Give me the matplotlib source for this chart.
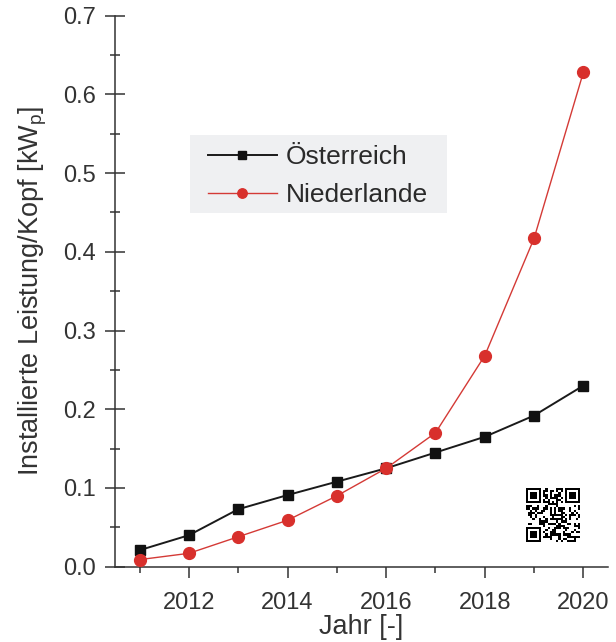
import numpy as np
import matplotlib
matplotlib.use("Agg")
import matplotlib.pyplot as plt
from matplotlib.patches import Rectangle
from matplotlib.ticker import MultipleLocator, FormatStrFormatter

plt.rcParams['font.family'] = ['Liberation Sans', 'DejaVu Sans']

# Installed PV capacity per capita [kWp]
years = [2011, 2012, 2013, 2014, 2015, 2016, 2017, 2018, 2019, 2020]
oesterreich = [0.021, 0.040, 0.073, 0.091, 0.108, 0.125, 0.145, 0.165, 0.192, 0.230]
niederlande = [0.009, 0.017, 0.038, 0.059, 0.090, 0.125, 0.170, 0.268, 0.417, 0.628]
series_names = ["Österreich", "Niederlande"]

W, H = 616, 642
fig = plt.figure(figsize=(W / 100, H / 100), dpi=100)
ax = fig.add_axes([0.1867, 0.1173, 0.8003, 0.8583])

spine_col = "#333333"
text_col = "#333333"
ax.plot(years, oesterreich, color="#1a1a1a", lw=1.4, marker="s", ms=7.5,
        mfc="#111111", mec="#111111", label=series_names[0], zorder=3)
ax.plot(years, niederlande, color="#d43a36", lw=1.0, marker="o", ms=8.5,
        mfc="#d8302c", mec="#d8302c", label=series_names[1], zorder=4)

ax.set_xlim(2010.5, 2020.5)
ax.set_ylim(0, 0.7)

for s in ("top", "right"):
    ax.spines[s].set_visible(False)
for s in ("left", "bottom"):
    ax.spines[s].set_color(spine_col)
    ax.spines[s].set_linewidth(1.1)

ax.xaxis.set_major_locator(MultipleLocator(2))
ax.xaxis.set_minor_locator(MultipleLocator(1))
ax.yaxis.set_major_locator(MultipleLocator(0.1))
ax.yaxis.set_minor_locator(MultipleLocator(0.05))
ax.yaxis.set_major_formatter(FormatStrFormatter("%.1f"))

ax.tick_params(axis="y", which="major", direction="inout", length=15, width=1.1,
               color=spine_col, labelsize=17, pad=6, labelcolor=text_col)
ax.tick_params(axis="y", which="minor", direction="inout", length=6.5, width=1.1,
               color=spine_col)
ax.tick_params(axis="x", which="major", direction="out", length=8, width=1.1,
               color=spine_col, labelsize=17, pad=10, labelcolor=text_col)
ax.tick_params(axis="x", which="minor", direction="out", length=4, width=1.1,
               color=spine_col)

ax.set_xlabel("Jahr [-]", fontsize=19.5, color=text_col, labelpad=0)
ax.set_ylabel("Installierte Leistung/Kopf [kW$_\\mathregular{p}$]", fontsize=19.5,
              color=text_col, labelpad=10)

# Legend panel: light grey box without border
ax.add_patch(Rectangle((190 / W, 1 - 213 / H), 257 / W, 78 / H,
                       transform=fig.transFigure, facecolor="#eff0f2",
                       edgecolor="none", zorder=1))
leg = ax.legend(loc="upper left", bbox_to_anchor=(208 / W, 1 - 145 / H),
                bbox_transform=fig.transFigure, fontsize=19, frameon=False,
                handlelength=2.61, handletextpad=0.34, labelspacing=0.54,
                borderpad=0, markerscale=0.8, borderaxespad=0)
for t in leg.get_texts():
    t.set_color("#2a2a2a")

# Small QR-style code in the lower right
n = 25
qr = np.zeros((n, n), dtype=int)
bits = np.unpackbits(np.frombuffer("Installierte Leistung pro Kopf Photovoltaik AT NL".encode() * 2,
                                   dtype=np.uint8))
qr_flat = bits[: n * n].reshape(n, n)
qr[:] = qr_flat ^ np.roll(qr_flat, 3, axis=1)
def finder(r, c):
    qr[r:r + 8, c:c + 8] = 0
    qr[r:r + 7, c:c + 7] = 1
    qr[r + 1:r + 6, c + 1:c + 6] = 0
    qr[r + 2:r + 5, c + 2:c + 5] = 1
finder(0, 0)
finder(0, n - 7)
qr[0:8, n - 8] = 0
qr[7, n - 8:] = 0
finder(n - 7, 0)
qr[n - 8, 0:8] = 0
qr[n - 8:, 7] = 0
qax = fig.add_axes([525 / W, (H - 542) / H, 55 / W, 54 / H])
qax.imshow(1 - qr, cmap="gray", interpolation="nearest", vmin=0, vmax=1)
qax.axis("off")

fig.savefig("out.png", dpi=100)
